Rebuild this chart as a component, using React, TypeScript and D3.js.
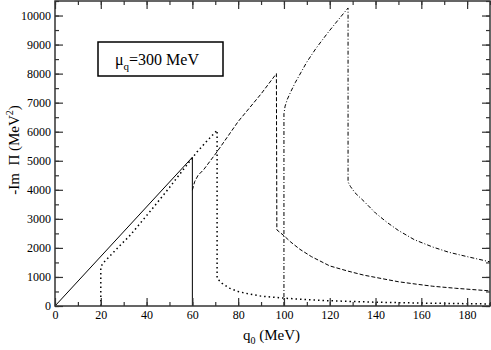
import React, { useEffect, useRef } from 'react';
import * as d3 from 'd3';

// q0 (MeV) vs -Im Pi (MeV^2)
const solidQ = [0, 60, 60];
const solidV = [0, 5120, 0];

const dottedQ = [20, 20, 21, 24, 28, 33, 42, 50, 59, 62, 66, 70.8, 70.8, 73, 76, 80, 85, 90, 100, 110, 120, 140, 160, 190];
const dottedV = [0, 1340, 1480, 1720, 2050, 2450, 3300, 4080, 5000, 5300, 5650, 6050, 950, 780, 620, 500, 410, 340, 270, 220, 180, 130, 100, 70];

const dashedQ = [60, 61, 62.5, 65, 70.7, 80, 90, 96.7, 96.9, 100, 103, 107, 112, 120, 128, 135, 143, 150, 158, 165, 175, 190];
const dashedV = [3990, 4280, 4500, 4700, 5300, 6350, 7300, 8000, 2620, 2420, 2200, 1950, 1700, 1380, 1200, 1060, 940, 835, 750, 680, 610, 520];

const dashDotQ = [100, 100, 100.5, 101.5, 103, 105, 107.5, 110, 114, 119, 123.5, 128, 128, 129, 131, 135, 140, 145, 150, 157, 165, 172, 180, 190];
const dashDotV = [0, 6620, 6880, 7120, 7380, 7700, 8050, 8400, 8870, 9390, 9830, 10260, 4270, 4120, 3900, 3600, 3200, 2880, 2600, 2280, 2030, 1850, 1700, 1520];

const xTicks = [0, 20, 40, 60, 80, 100, 120, 140, 160, 180];
const yTicks = [0, 1000, 2000, 3000, 4000, 5000, 6000, 7000, 8000, 9000, 10000];

const W = 491;
const H = 350;
const margin = { top: 1, right: 1, bottom: 44, left: 55 };
const font = "'Liberation Serif', 'Times New Roman', serif";

const App = () => {
  const ref = useRef<SVGSVGElement>(null);

  useEffect(() => {
    const svg = d3.select(ref.current);
    svg.selectAll('*').remove();

    const x = d3.scaleLinear().domain([0, 190]).range([margin.left, W - margin.right]);
    const y = d3.scaleLinear().domain([0, 10500]).range([H - margin.bottom, margin.top]);
    const x0 = margin.left, x1 = W - margin.right, y0 = H - margin.bottom, y1 = margin.top;

    const line = d3.line<[number, number]>().x(d => x(d[0])).y(d => y(d[1]));
    const zip = (qs: number[], vs: number[]) => qs.map((q, i) => [q, vs[i]] as [number, number]);

    const curves = [
      { d: zip(solidQ, solidV), dash: null, w: 1 },
      { d: zip(dottedQ, dottedV), dash: '1.5,3', w: 1.5 },
      { d: zip(dashedQ, dashedV), dash: '4,2', w: 1 },
      { d: zip(dashDotQ, dashDotV), dash: '4,2,1,2', w: 1 },
    ];
    curves.forEach(c => {
      const p = svg.append('path')
        .attr('d', line(c.d))
        .attr('fill', 'none')
        .attr('stroke', '#000')
        .attr('stroke-width', c.w);
      if (c.dash) p.attr('stroke-dasharray', c.dash);
    });

    const minorX = d3.range(0, 191, 10);
    const minorY = d3.range(0, 10501, 500);
    const styleAxis = (g: any) => {
      g.attr('font-family', null);
      g.select('.domain').remove();
      g.selectAll('line').attr('stroke', '#333').attr('stroke-width', 1.2);
      g.selectAll('text').style('font-family', font).style('font-size', '12px').attr('fill', '#000');
    };

    svg.append('g').attr('transform', `translate(0,${y0})`)
      .call(d3.axisBottom(x).tickValues(minorX).tickSize(-4).tickFormat(() => '')).call(styleAxis);
    svg.append('g').attr('transform', `translate(0,${y0})`)
      .call(d3.axisBottom(x).tickValues(xTicks).tickSize(-8).tickPadding(4).tickFormat(d3.format('d'))).call(styleAxis);
    svg.append('g').attr('transform', `translate(0,${y1})`)
      .call(d3.axisTop(x).tickValues(minorX).tickSize(-4).tickFormat(() => '')).call(styleAxis);
    svg.append('g').attr('transform', `translate(0,${y1})`)
      .call(d3.axisTop(x).tickValues(xTicks).tickSize(-8).tickFormat(() => '')).call(styleAxis);

    svg.append('g').attr('transform', `translate(${x0},0)`)
      .call(d3.axisLeft(y).tickValues(minorY).tickSize(-4).tickFormat(() => '')).call(styleAxis);
    svg.append('g').attr('transform', `translate(${x0},0)`)
      .call(d3.axisLeft(y).tickValues(yTicks).tickSize(-8).tickPadding(4).tickFormat(d3.format('d'))).call(styleAxis);
    svg.append('g').attr('transform', `translate(${x1},0)`)
      .call(d3.axisRight(y).tickValues(minorY).tickSize(-4).tickFormat(() => '')).call(styleAxis);
    svg.append('g').attr('transform', `translate(${x1},0)`)
      .call(d3.axisRight(y).tickValues(yTicks).tickSize(-8).tickFormat(() => '')).call(styleAxis);

    svg.append('rect')
      .attr('x', x0).attr('y', y1).attr('width', x1 - x0).attr('height', y0 - y1)
      .attr('fill', 'none').attr('stroke', '#333').attr('stroke-width', 1.5);

    // legend box
    svg.append('rect')
      .attr('x', 98).attr('y', 42).attr('width', 125).attr('height', 34)
      .attr('fill', '#fff').attr('stroke', '#000').attr('stroke-width', 1.5);
    const lt = svg.append('text').attr('x', 115).attr('y', 65)
      .style('font-family', font).style('font-size', '16px');
    lt.append('tspan').text('μ');
    lt.append('tspan').attr('dy', 5).style('font-size', '11px').text('q');
    lt.append('tspan').attr('dy', -5).text('=300 MeV');

    // axis titles
    const xt = svg.append('text').attr('x', 243).attr('y', 340)
      .style('font-family', font).style('font-size', '15px');
    xt.append('tspan').text('q');
    xt.append('tspan').attr('dy', 4).style('font-size', '10px').text('0');
    xt.append('tspan').attr('dy', -4).text(' (MeV)');

    const yt = svg.append('text')
      .attr('transform', 'translate(19,150) rotate(-90)')
      .attr('text-anchor', 'middle')
      .style('font-family', font).style('font-size', '15px');
    yt.append('tspan').text('-Im\u00a0\u00a0Π (MeV');
    yt.append('tspan').attr('dy', -6).style('font-size', '10px').text('2');
    yt.append('tspan').attr('dy', 6).text(')');
  }, []);

  return (
    <svg
      ref={ref}
      width={W}
      height={H}
      style={{ position: 'absolute', left: 0, top: 0, background: '#fff' }}
    />
  );
};

export default App;
